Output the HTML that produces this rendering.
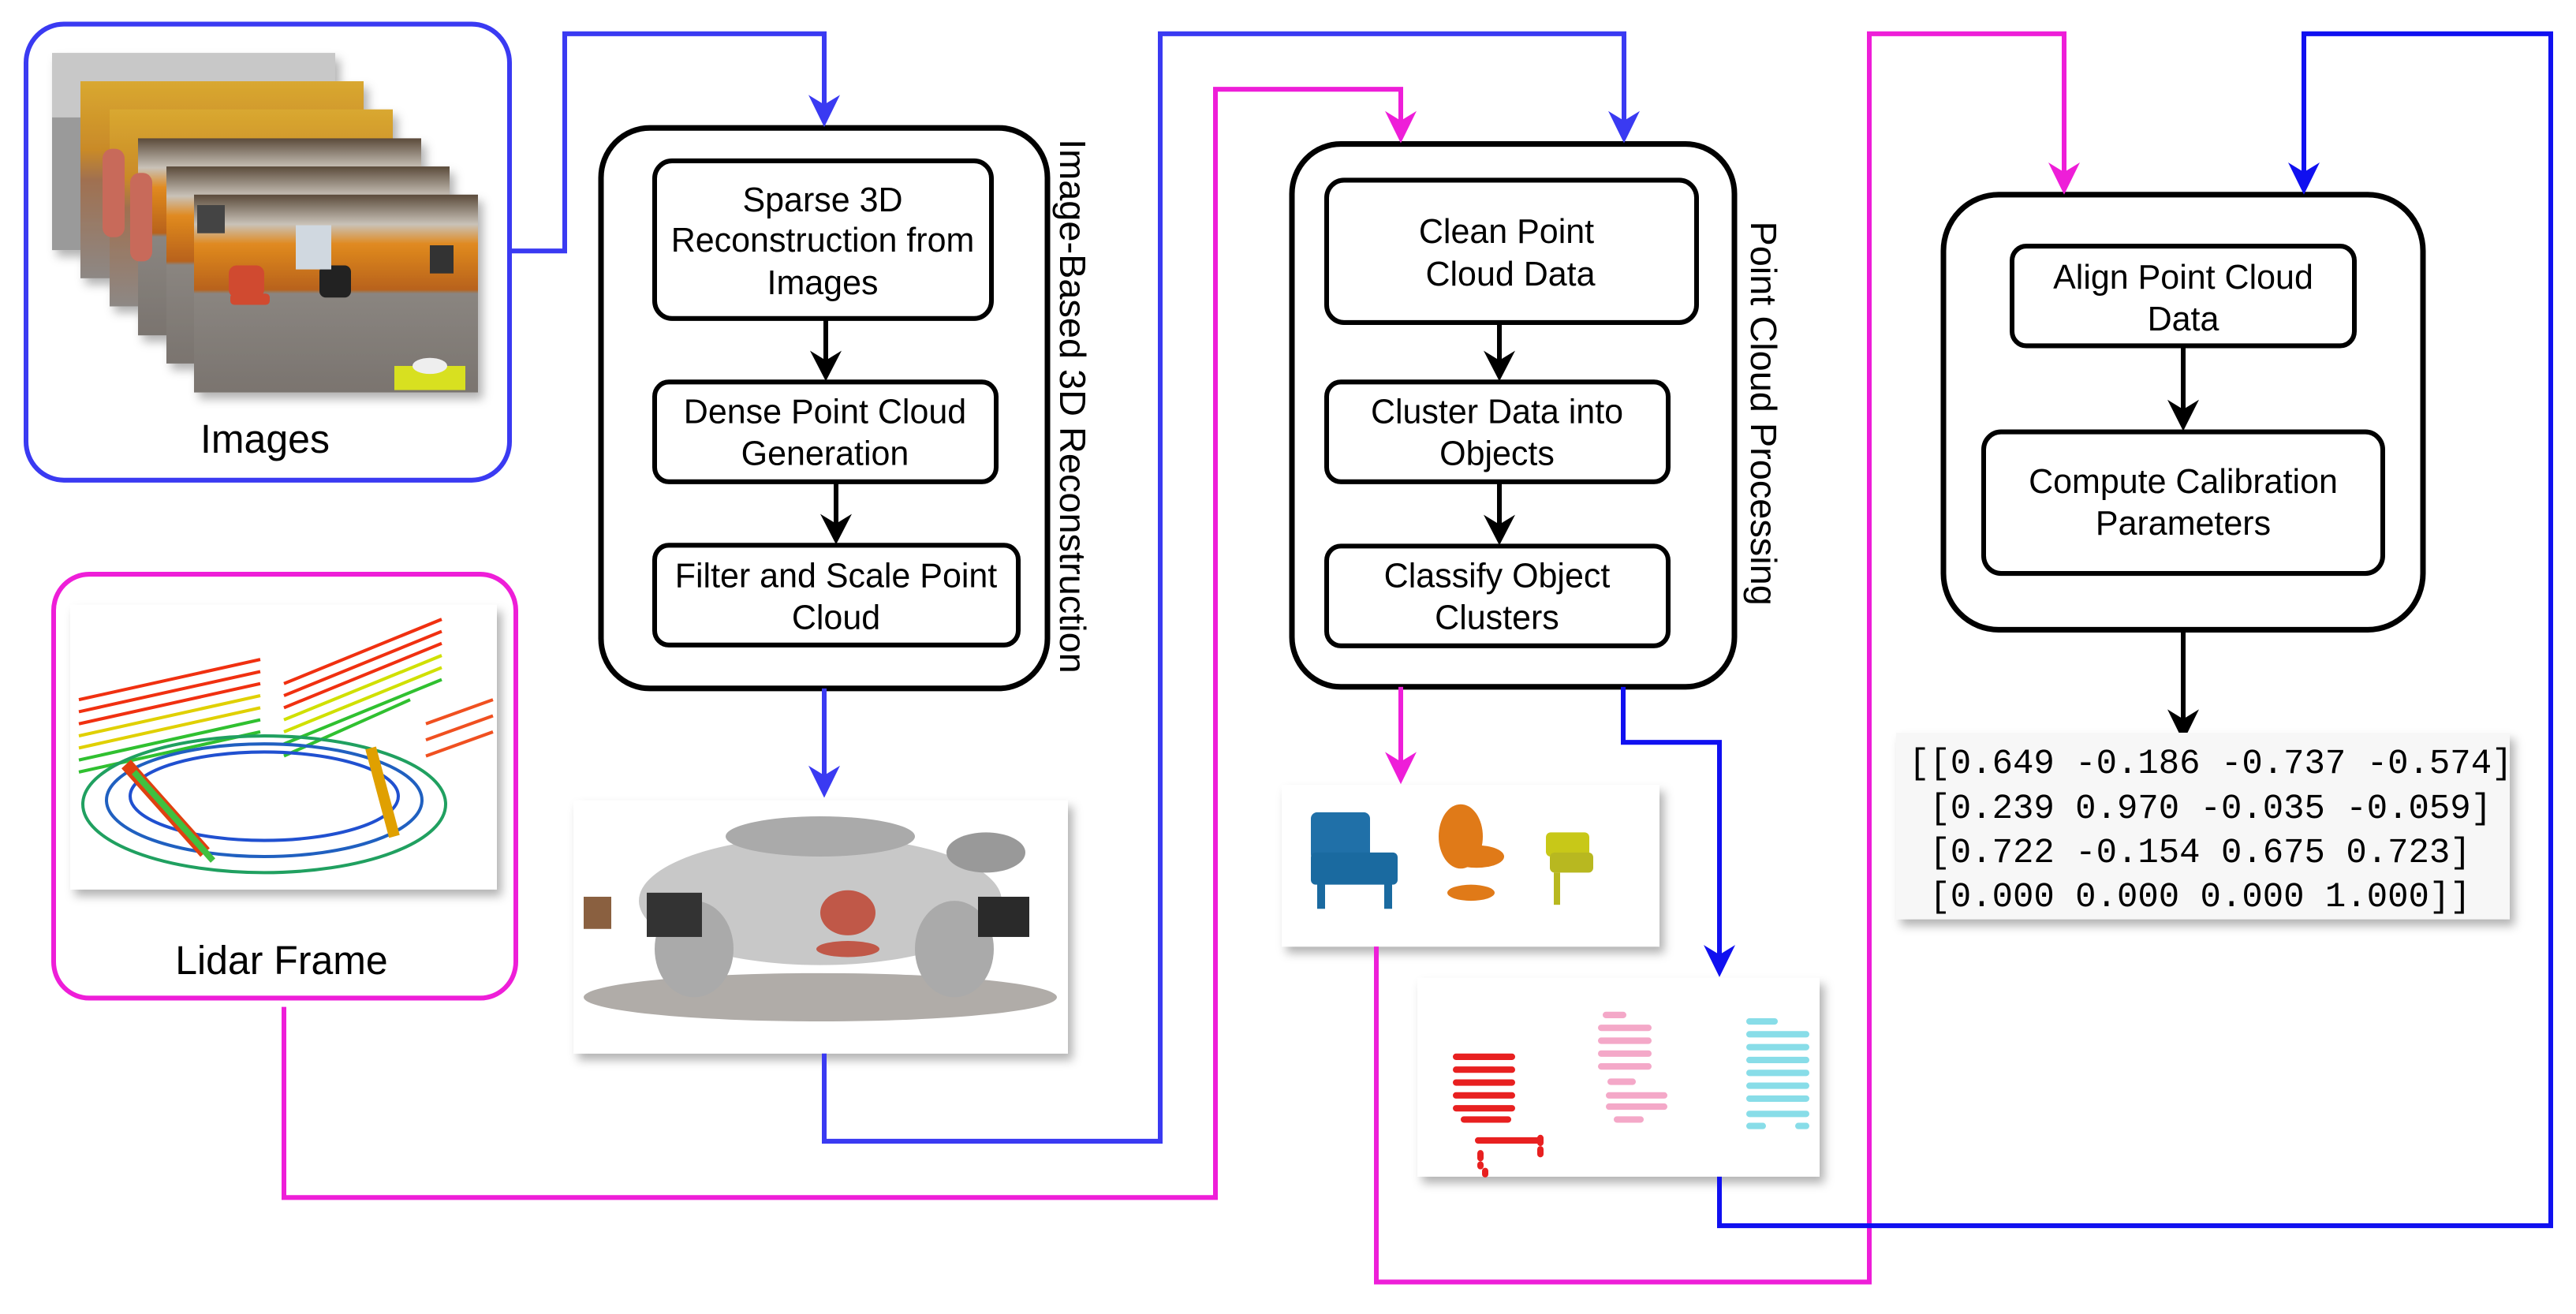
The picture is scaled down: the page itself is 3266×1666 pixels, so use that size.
<!DOCTYPE html>
<html><head><meta charset="utf-8"><style>
html,body{margin:0;padding:0;background:#fff;}
svg{display:block;}
text{font-family:"Liberation Sans",Arial,sans-serif;fill:#000;}
.mono{font-family:"Liberation Mono","DejaVu Sans Mono",monospace;}
</style></head><body>
<svg width="3266" height="1666" viewBox="0 0 3266 1666" xmlns="http://www.w3.org/2000/svg">
<defs>
<filter id="sh" x="-10%" y="-10%" width="130%" height="130%"><feDropShadow dx="6" dy="8" stdDeviation="6" flood-color="#000" flood-opacity="0.3"/></filter>
<linearGradient id="wall" x1="0" y1="0" x2="0" y2="1"><stop offset="0" stop-color="#5a4a3a"/><stop offset="0.15" stop-color="#c9c2b8"/><stop offset="0.25" stop-color="#e08a20"/><stop offset="0.48" stop-color="#b8621a"/><stop offset="0.5" stop-color="#8a8580"/><stop offset="1" stop-color="#7a746f"/></linearGradient>
<linearGradient id="wall2" x1="0" y1="0" x2="0" y2="1"><stop offset="0" stop-color="#d9a830"/><stop offset="0.35" stop-color="#c98a28"/><stop offset="0.5" stop-color="#a07050"/><stop offset="1" stop-color="#8d8885"/></linearGradient>
</defs>
<g transform="scale(1,1.0197)">
<!-- Images box -->
<rect x="33" y="30" width="613" height="567" rx="48" fill="#fff" stroke="#3a3af2" stroke-width="6"/>
<g filter="url(#sh)">
<rect x="66" y="66" width="359" height="245" fill="#9a9a9a"/>
<rect x="66" y="66" width="359" height="80" fill="#c8c8c8"/>
<rect x="102" y="101" width="359" height="245" fill="url(#wall2)"/>
<rect x="139" y="136" width="359" height="245" fill="url(#wall2)"/>
<rect x="175" y="172" width="359" height="245" fill="url(#wall)"/>
<rect x="211" y="207" width="359" height="245" fill="url(#wall)"/>
<rect x="246" y="242" width="360" height="246" fill="url(#wall)"/>
</g>
<rect x="130" y="185" width="28" height="110" rx="12" fill="#c86a5a"/>
<rect x="165" y="215" width="28" height="110" rx="12" fill="#c86a5a"/>
<rect x="290" y="330" width="45" height="40" rx="10" fill="#d04a30"/>
<rect x="292" y="365" width="50" height="14" rx="5" fill="#d04a30"/>
<rect x="405" y="330" width="40" height="40" rx="8" fill="#222"/>
<rect x="545" y="305" width="30" height="35" fill="#333"/>
<rect x="250" y="255" width="35" height="35" fill="#444"/>
<rect x="375" y="280" width="45" height="55" fill="#d0d8e0"/>
<rect x="500" y="455" width="90" height="30" fill="#d8e020"/>
<ellipse cx="545" cy="455" rx="22" ry="10" fill="#eee"/>
<text x="336" y="563" font-size="50" text-anchor="middle">Images</text>

<!-- Lidar box -->
<rect x="68" y="714" width="586" height="527" rx="45" fill="#fff" stroke="#ee1ed8" stroke-width="6"/>
<rect x="89" y="752" width="541" height="354" fill="#fff" filter="url(#sh)"/>
<g fill="none" stroke-width="4">
<path d="M100 870 L330 820 M100 885 L330 835 M100 900 L330 850" stroke="#f03010"/>
<path d="M100 915 L330 865 M100 930 L330 880" stroke="#e0d000"/>
<path d="M100 945 L330 895 M100 960 L330 910" stroke="#30c030"/>
<path d="M360 850 L560 770 M360 865 L560 785 M360 880 L560 800" stroke="#f03010"/>
<path d="M360 895 L560 815 M360 910 L560 830" stroke="#d0e000"/>
<path d="M360 925 L560 845 M360 940 L520 870" stroke="#30c030"/>
<path d="M540 900 L625 870 M540 920 L625 890 M540 940 L625 910" stroke="#f05020"/>
<ellipse cx="335" cy="990" rx="170" ry="55" stroke="#2050d0"/>
<ellipse cx="335" cy="995" rx="200" ry="70" stroke="#2060c0"/>
<ellipse cx="335" cy="1000" rx="230" ry="85" stroke="#20a060"/>
<path d="M160 950 L260 1060" stroke="#e04010" stroke-width="16"/>
<path d="M170 960 L270 1070" stroke="#40c040" stroke-width="8"/>
<path d="M470 930 L500 1040" stroke="#e0a000" stroke-width="14"/>
</g>
<text x="357" y="1211" font-size="50" text-anchor="middle">Lidar Frame</text>

<!-- Box 1 -->
<rect x="762" y="159" width="566" height="697" rx="62" fill="#fff" stroke="#000" stroke-width="7"/>
<rect x="830" y="200" width="427" height="196" rx="22" fill="#fff" stroke="#000" stroke-width="6"/>
<text font-size="43" text-anchor="middle"><tspan x="1043" y="263">Sparse 3D</tspan><tspan x="1043" y="313">Reconstruction from</tspan><tspan x="1043" y="366">Images</tspan></text>
<rect x="830" y="475" width="433" height="124" rx="18" fill="#fff" stroke="#000" stroke-width="6"/>
<text font-size="43" text-anchor="middle"><tspan x="1046" y="526">Dense Point Cloud</tspan><tspan x="1046" y="578">Generation</tspan></text>
<rect x="830" y="678" width="461" height="124" rx="18" fill="#fff" stroke="#000" stroke-width="6"/>
<text font-size="43" text-anchor="middle"><tspan x="1060" y="730">Filter and Scale Point</tspan><tspan x="1060" y="782">Cloud</tspan></text>
<text font-size="46" text-anchor="middle" transform="translate(1344,505) rotate(90)">Image-Based 3D Reconstruction</text>
<path d="M1047 396 V462 M1060 599 V665" stroke="#000" stroke-width="6"/>
<polygon points="1027,436 1047,474 1067,436 1047,448" fill="#000"/>
<polygon points="1040,639 1060,677 1080,639 1060,651" fill="#000"/>

<!-- Point cloud image -->
<rect x="727" y="995" width="627" height="315" fill="#fff" filter="url(#sh)"/>
<g fill="#999">
<ellipse cx="1040" cy="1120" rx="230" ry="80" fill="#c8c8c8"/>
<ellipse cx="1040" cy="1240" rx="300" ry="30" fill="#b0aca8"/>
<ellipse cx="880" cy="1180" rx="50" ry="60" fill="#aaa"/>
<ellipse cx="1210" cy="1180" rx="50" ry="60" fill="#aaa"/>
<rect x="820" y="1110" width="70" height="55" fill="#333"/>
<rect x="1240" y="1115" width="65" height="50" fill="#2a2a2a"/>
<ellipse cx="1075" cy="1135" rx="35" ry="28" fill="#c05848"/>
<ellipse cx="1075" cy="1180" rx="40" ry="10" fill="#c05848"/>
<ellipse cx="1040" cy="1040" rx="120" ry="25" fill="#aaa"/>
<ellipse cx="1250" cy="1060" rx="50" ry="25" fill="#999"/>
<rect x="740" y="1115" width="35" height="40" fill="#8a6040"/>
</g>

<!-- Box 2 -->
<rect x="1638" y="179" width="561" height="675" rx="62" fill="#fff" stroke="#000" stroke-width="7"/>
<rect x="1682" y="224" width="469" height="177" rx="22" fill="#fff" stroke="#000" stroke-width="6"/>
<text font-size="43" text-anchor="middle"><tspan x="1910" y="302">Clean Point</tspan><tspan x="1915" y="355">Cloud Data</tspan></text>
<rect x="1682" y="475" width="433" height="124" rx="18" fill="#fff" stroke="#000" stroke-width="6"/>
<text font-size="43" text-anchor="middle"><tspan x="1898" y="526">Cluster Data into</tspan><tspan x="1898" y="578">Objects</tspan></text>
<rect x="1682" y="679" width="433" height="124" rx="18" fill="#fff" stroke="#000" stroke-width="6"/>
<text font-size="43" text-anchor="middle"><tspan x="1898" y="730">Classify Object</tspan><tspan x="1898" y="782">Clusters</tspan></text>
<text font-size="46" text-anchor="middle" transform="translate(2220,514) rotate(90)">Point Cloud Processing</text>
<path d="M1901 401 V462 M1901 599 V665" stroke="#000" stroke-width="6"/>
<polygon points="1881,436 1901,474 1921,436 1901,448" fill="#000"/>
<polygon points="1881,640 1901,678 1921,640 1901,652" fill="#000"/>

<!-- clusters image -->
<rect x="1625" y="976" width="479" height="201" fill="#fff" filter="url(#sh)"/>
<rect x="1662" y="1010" width="75" height="60" rx="8" fill="#2070a8"/>
<rect x="1662" y="1060" width="110" height="40" rx="6" fill="#1a6aa0"/>
<rect x="1670" y="1095" width="10" height="35" fill="#1a6aa0"/>
<rect x="1755" y="1095" width="10" height="35" fill="#1a6aa0"/>
<ellipse cx="1852" cy="1040" rx="28" ry="40" fill="#e07a18"/>
<ellipse cx="1872" cy="1065" rx="35" ry="14" fill="#e07a18"/>
<ellipse cx="1865" cy="1110" rx="30" ry="10" fill="#e07a18"/>
<rect x="1960" y="1035" width="55" height="30" rx="6" fill="#c8c818"/>
<rect x="1965" y="1060" width="55" height="25" rx="6" fill="#b8b820"/>
<rect x="1970" y="1085" width="8" height="40" fill="#b8b820"/>

<!-- classified image -->
<rect x="1797" y="1216" width="510" height="247" fill="#fff" filter="url(#sh)"/>
<g stroke-width="8" stroke-linecap="round">
<path d="M1846 1314 H1917 M1846 1330 H1917 M1846 1346 H1917 M1846 1362 H1917 M1846 1378 H1917 M1856 1392 H1912 M1874 1418 H1952" stroke="#e82020"/>
<path d="M1877 1434 V1450 M1953 1415 V1440 M1883 1456 V1460" stroke="#e82020" stroke-dasharray="6 8"/>
<path d="M2036 1262 H2058 M2030 1278 H2090 M2030 1294 H2090 M2030 1310 H2090 M2030 1326 H2090 M2042 1345 H2070 M2040 1362 H2110 M2040 1376 H2110 M2050 1392 H2080" stroke="#f4a8c8"/>
<path d="M2218 1270 H2250 M2218 1286 H2290 M2218 1302 H2290 M2218 1318 H2290 M2218 1334 H2290 M2218 1350 H2290 M2218 1366 H2290 M2218 1385 H2290 M2218 1400 H2235 M2280 1400 H2290" stroke="#88dde8"/>
</g>

<!-- Box 3 -->
<rect x="2464" y="242" width="608" height="541" rx="70" fill="#fff" stroke="#000" stroke-width="7"/>
<rect x="2551" y="306" width="434" height="124" rx="18" fill="#fff" stroke="#000" stroke-width="6"/>
<text font-size="43" text-anchor="middle"><tspan x="2768" y="359">Align Point Cloud</tspan><tspan x="2768" y="411">Data</tspan></text>
<rect x="2515" y="537" width="506" height="176" rx="22" fill="#fff" stroke="#000" stroke-width="6"/>
<text font-size="43" text-anchor="middle"><tspan x="2768" y="613">Compute Calibration</tspan><tspan x="2768" y="665">Parameters</tspan></text>
<path d="M2768 430 V525 M2768 783 V910" stroke="#000" stroke-width="6"/>
<polygon points="2748,497 2768,536 2788,497 2768,509" fill="#000"/>
<polygon points="2748,882 2768,922 2788,882 2768,894" fill="#000"/>

<!-- matrix -->
<rect x="2404" y="911" width="778" height="232" fill="#f7f7f7" filter="url(#sh)"/>
<text class="mono" font-size="44" xml:space="preserve"><tspan x="2420" y="961">[[0.649 -0.186 -0.737 -0.574]</tspan><tspan x="2420" y="1017"> [0.239 0.970 -0.035 -0.059]</tspan><tspan x="2420" y="1072"> [0.722 -0.154 0.675 0.723]</tspan><tspan x="2420" y="1127"> [0.000 0.000 0.000 1.000]]</tspan></text>

<!-- connectors -->
<g fill="none" stroke-width="6">
<path d="M646 312 H716 V42 H1045 V150" stroke="#3a3af2"/>
<path d="M1045 856 V985" stroke="#3a3af2"/>
<path d="M1045 1310 V1419 H1471 V42 H2059 V172" stroke="#3a3af2"/>
<path d="M360 1252 V1489 H1541 V111 H1776 V172" stroke="#ee1ed8"/>
<path d="M1776 854 V968" stroke="#ee1ed8"/>
<path d="M2058 854 V923 H2180 V1205" stroke="#1010f0"/>
<path d="M1745 1177 V1594 H2370 V42 H2617 V235" stroke="#ee1ed8"/>
<path d="M2180 1463 V1524 H3234 V42 H2921 V235" stroke="#1010f0"/>
</g>
<polygon points="1025,118 1045,158 1065,118 1045,130" fill="#3a3af2"/>
<polygon points="1025,952 1045,992 1065,952 1045,964" fill="#3a3af2"/>
<polygon points="2039,138 2059,178 2079,138 2059,150" fill="#3a3af2"/>
<polygon points="1756,138 1776,178 1796,138 1776,150" fill="#ee1ed8"/>
<polygon points="1756,935 1776,975 1796,935 1776,947" fill="#ee1ed8"/>
<polygon points="2160,1175 2180,1215 2200,1175 2180,1187" fill="#1010f0"/>
<polygon points="2597,202 2617,242 2637,202 2617,214" fill="#ee1ed8"/>
<polygon points="2901,202 2921,242 2941,202 2921,214" fill="#1010f0"/>
</g>
</svg>
</body></html>
